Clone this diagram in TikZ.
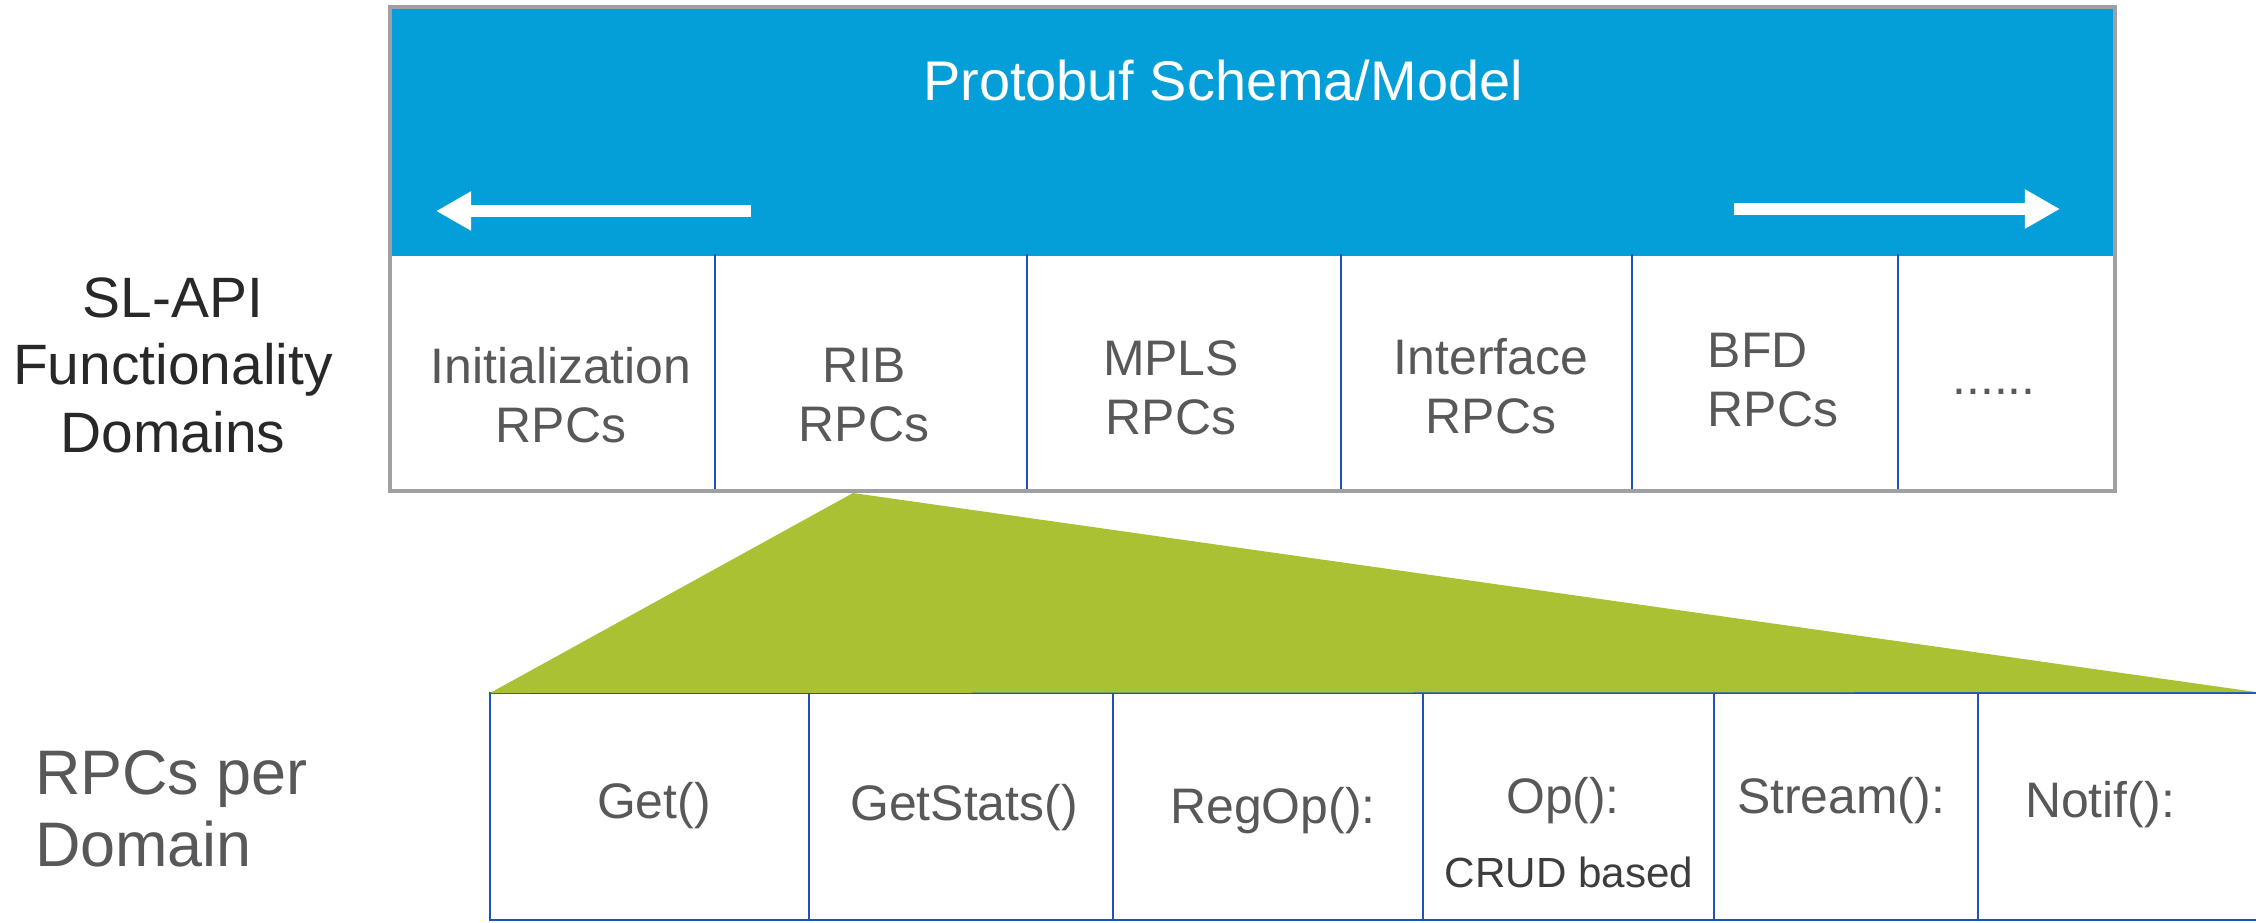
\documentclass[tikz,border=0pt]{standalone}
\usepackage{fontspec}
\setmainfont{Liberation Sans}
\usepackage{xcolor}
\usepackage{tikz}
\usetikzlibrary{arrows.meta}

\definecolor{ciscoblue}{RGB}{4,159,217}
\definecolor{framegray}{RGB}{160,160,164}
\definecolor{cellblue}{RGB}{30,80,190}
\definecolor{labelgray}{RGB}{88,88,90}
\definecolor{darklabel}{RGB}{40,40,40}
\definecolor{zoomgreen}{RGB}{171,193,52}

\begin{document}
\begin{tikzpicture}[x=0.1mm,y=-0.1mm]
\tikzset{every node/.style={inner sep=0pt,outer sep=0pt}}
\tikzset{frame/.style={draw=framegray,line width=1.3pt}}
\tikzset{divider/.style={draw=cellblue,line width=0.55pt}}
\tikzset{bigarrow/.style={draw=white,line width=3.4pt,-{Triangle[length=10pt,width=10.5pt]}}}
\tikzset{domaincell/.style={text=labelgray,font=\fontsize{14.2}{16.8}\selectfont}}
\tikzset{rpc/.style={text=labelgray,font=\fontsize{14.2}{16.8}\selectfont,anchor=base}}
\tikzset{sidelabel/.style={font=\fontsize{16.2}{19.2}\selectfont}}

\useasboundingbox (0,0) rectangle (2256,922);

% schema bar and domain row
\fill[ciscoblue] (390,7) rectangle (2115,256);
\foreach \x in {715,1027,1341,1632,1898}
   \draw[divider] (\x,254) -- (\x,491);
\draw[frame] (390,7) rectangle (2115,491);

\node[text=white,font=\fontsize{15.9}{19}\selectfont,anchor=base] (schema) at (1223,100) {Protobuf Schema/Model};

\coordinate (larr s) at (751,211);
\coordinate (larr e) at (436,211);
\coordinate (rarr s) at (1734,209);
\coordinate (rarr e) at (2060,209);
\draw[bigarrow] (larr s) -- (larr e);
\draw[bigarrow] (rarr s) -- (rarr e);

\foreach \txt/\x/\y/\al [count=\i] in {%
   {Initialization\\RPCs}/561/395/center,%
   {RIB\\RPCs}/864/395/center,%
   {MPLS\\RPCs}/1171/388/center,%
   {Interface\\RPCs}/1491/386/center,%
   {BFD\\RPCs}/1773/380/left}
   \node[domaincell,align=\al] (dom\i) at (\x,\y) {\txt};
\node[domaincell,anchor=base] (dom6) at (1994,394) {......};

% zoom into the RIB domain
\draw[divider] (2256,693) -- (490,693) -- (490,920) -- (2256,920);
\foreach \x in {809,1113,1423,1714,1978}
   \draw[divider] (\x,693) -- (\x,921);
\fill[zoomgreen] (853,493) -- (490,693) -- (2256,692) -- cycle;

\node[rpc] (get) at (654,818) {Get()};
\node[rpc] (stats) at (964,820) {GetStats()};
\node[rpc] (regop) at (1273,823) {RegOp():};
\node[rpc] (op) at (1563,813) {Op():};
\node[rpc,text=darklabel!90,font=\fontsize{12}{14}\selectfont] (crud) at (1569,887) {CRUD based};
\node[rpc] (stream) at (1841,813) {Stream():};
\node[rpc] (notif) at (2100,817) {Notif():};

% row labels
\node[sidelabel,text=darklabel,align=center] (sl) at (173,365) {SL-API\\Functionality\\Domains};
\node[sidelabel,text=labelgray,align=left,anchor=west,font=\fontsize{17.9}{20.5}\selectfont] (per) at (35,809) {RPCs per\\Domain};
\end{tikzpicture}
\end{document}
